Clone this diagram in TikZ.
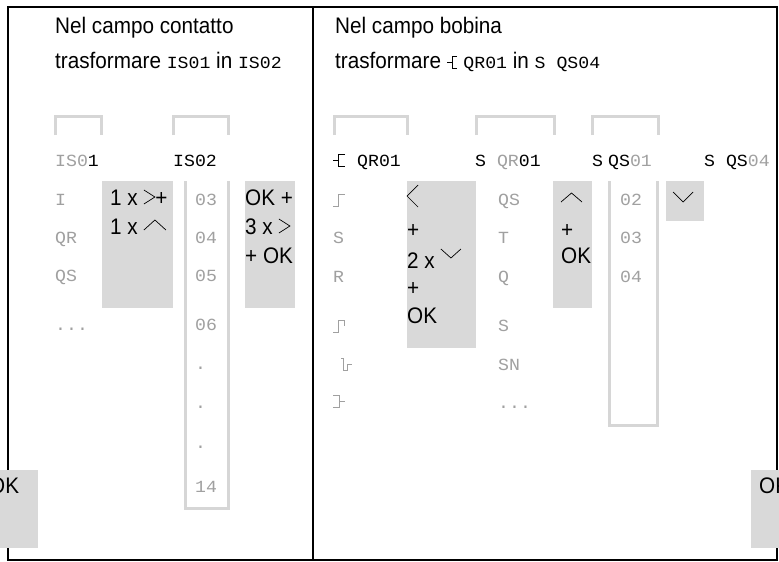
\documentclass[tikz,border=0pt]{standalone}
\usepackage{fontspec}
\newfontfamily\txtf{Liberation Sans}[FakeStretch=0.92]
\newfontfamily\lcdf{Liberation Mono}[FakeStretch=1.07]
\definecolor{lcdgray}{HTML}{A0A0A0}
\definecolor{boxgray}{HTML}{D9D9D9}
\definecolor{framegray}{HTML}{D6D6D6}
\newcommand\lcdtxt[1]{{\lcdf\fontsize{17}{20}\selectfont #1}}
\newcommand\chR{\tikz[x=1pt,y=1pt,baseline=0pt]\draw[line width=0.7pt] (0,15)--(11,8)--(0,1);}
\newcommand\chU{\tikz[x=1pt,y=1pt,baseline=0pt]\draw[line width=0.7pt] (0,4)--(11,14)--(22,4);}
\newcommand\chD{\tikz[x=1pt,y=1pt,baseline=0pt]\draw[line width=0.7pt] (0,19)--(10,10)--(20,19);}
\newcommand\coilsym{\tikz[x=1pt,y=1pt,baseline=0pt]\draw[line width=0.9pt] (0,6)--(5,6) (10,12)--(5,12)--(5,0)--(10,0);}
\begin{document}
\begin{tikzpicture}[x=1pt,y=-1pt,
  ttl/.style={inner sep=0pt,anchor=base west,font=\txtf\fontsize{22.5}{26}\selectfont},
  lcd/.style={inner sep=0pt,anchor=base west,font=\lcdf\fontsize{17}{20}\selectfont,text=lcdgray},
  lcdk/.style={lcd,text=black},
  gbox/.style={fill=boxgray},
  brk/.style={draw=framegray,line width=3pt},
  sym/.style={draw=lcdgray,line width=1pt},
  chev/.style={draw=black,line width=0.7pt},
  border/.style={draw=black,line width=1.2pt}]
\useasboundingbox (0,0) rectangle (779,562);
\clip (0,0) rectangle (779,562);
\fill[white] (0,0) rectangle (779,562);
% frame
\draw[border] (8,7) rectangle (777,560);
\draw[border] (313,7) -- (313,560);
% ================= left panel =================
\node[ttl] (tla) at (55,33) {Nel campo contatto};
\node[ttl] (tlb) at (55,68) {trasformare \lcdtxt{IS01} in \lcdtxt{IS02}};
\draw[brk] (55,135) -- (55,116.5) -- (101,116.5) -- (101,135);
\draw[brk] (173.5,135) -- (173.5,116.5) -- (228.5,116.5) -- (228.5,135);
\node[lcd] (lh1) at (55,166) {IS0\textcolor{black}{1}};
\node[lcdk] (lh2) at (173,166) {IS02};
\node[lcd] (lc1) at (55,205.5) {I};
\node[lcd] (lc2) at (55,243.5) {QR};
\node[lcd] (lc3) at (55,281.5) {QS};
\node[lcd] (lc4) at (55,330) {...};
% box 1
\fill[gbox] (102,181) rectangle (173,308);
\node[ttl] (b1a) at (110,205) {1 x \chR+};
\node[ttl] (b1b) at (110,234) {1 x \chU};
% list frame 03..14
\draw[brk] (185,181) -- (185,508.5) -- (228.5,508.5) -- (228.5,181);
\node[lcd] (l03) at (195,205.5) {03};
\node[lcd] (l04) at (195,243.5) {04};
\node[lcd] (l05) at (195,281.5) {05};
\node[lcd] (l06) at (195,330.5) {06};
\node[lcd] (ld1) at (195,369.5) {.};
\node[lcd] (ld2) at (195,408.5) {.};
\node[lcd] (ld3) at (195,448.5) {.};
\node[lcd] (l14) at (195,492.5) {14};
% box 2
\fill[gbox] (245,181) rectangle (295,308);
\node[ttl] (b2a) at (245,205) {OK +};
\node[ttl] (b2b) at (245,234) {3 x \chR};
\node[ttl] (b2c) at (245,263) {+ OK};
% left OK box
\fill[gbox] (-1,470) rectangle (38,548);
\node[ttl] (okl) at (-11,493) {OK};
% ================= right panel =================
\node[ttl] (tra) at (335,33) {Nel campo bobina};
\node[ttl] (trb) at (335,68) {trasformare \coilsym\ \lcdtxt{QR01} in \lcdtxt{S QS04}};
\draw[brk] (334.5,135) -- (334.5,116.5) -- (407.5,116.5) -- (407.5,135);
\draw[brk] (476,135) -- (476,116.5) -- (554.5,116.5) -- (554.5,135);
\draw[brk] (592.5,135) -- (592.5,116.5) -- (658.5,116.5) -- (658.5,135);
% headers
\draw[line width=1pt] (333,160) -- (338,160) (345,154) -- (338,154) -- (338,166) -- (345,166);
\node[lcdk] (rh1) at (357,166) {QR01};
\node[lcdk] (rh2) at (475,166) {S \textcolor{lcdgray}{QR}01};
\node[lcdk] (rh3a) at (592,166) {S};
\node[lcdk] (rh3b) at (608,166) {QS\textcolor{lcdgray}{01}};
\node[lcdk] (rh4) at (704,166) {S QS\textcolor{lcdgray}{04}};
% column 1 symbols
\draw[sym] (333,206) -- (338.5,206) -- (338.5,194) -- (345,194);
\node[lcd] (rc2) at (333,243) {S};
\node[lcd] (rc3) at (333,282) {R};
\draw[sym] (333,332) -- (338.5,332) -- (338.5,320) -- (344,320) -- (344,326);
\draw[sym] (341,358) -- (343.5,358) -- (343.5,370) -- (347.5,370) -- (347.5,364) -- (352,364);
\draw[sym] (333,395) -- (339,395) -- (339,407) -- (333,407) (339,401) -- (345,401);
% box 3
\fill[gbox] (407,181) rectangle (476,348);
\draw[chev] (418,185) -- (407,196) -- (418,207);
\node[ttl] (b3a) at (407,237) {+};
\node[ttl] (b3b) at (407,268) {2 x \chD};
\node[ttl] (b3c) at (407,295) {+};
\node[ttl] (b3d) at (407,323) {OK};
% column 2
\node[lcd] (q1) at (498,205) {QS};
\node[lcd] (q2) at (498,243) {T};
\node[lcd] (q3) at (498,282) {Q};
\node[lcd] (q4) at (498,331) {S};
\node[lcd] (q5) at (498,370) {SN};
\node[lcd] (q6) at (498,408) {...};
% box 4
\fill[gbox] (553,181) rectangle (592,308);
\draw[chev] (561,202) -- (571.5,193) -- (582,202);
\node[ttl] (b4a) at (561,237) {+};
\node[ttl] (b4b) at (561,263) {OK};
% list frame 02..04
\draw[brk] (609.5,181) -- (609.5,425.5) -- (657.5,425.5) -- (657.5,181);
\node[lcd] (s02) at (620,205) {02};
\node[lcd] (s03) at (620,243) {03};
\node[lcd] (s04) at (620,282) {04};
% box 5
\fill[gbox] (666,181) rectangle (704,221);
\draw[chev] (673,192) -- (683,202) -- (693,192);
% right OK box
\fill[gbox] (751,470) rectangle (780,548);
\node[ttl] (okr) at (759,493) {OK};
\end{tikzpicture}
\end{document}
